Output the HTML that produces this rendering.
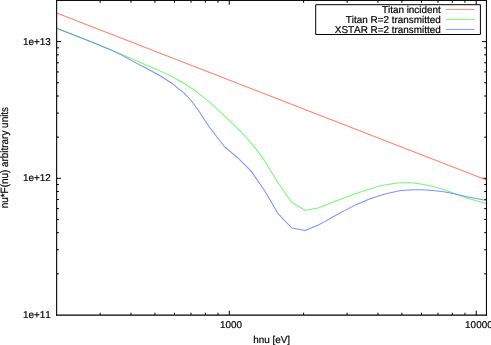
<!DOCTYPE html>
<html><head><meta charset="utf-8"><title>plot</title>
<style>
html,body{margin:0;padding:0;background:#fff;}
svg{display:block;}
text{font-family:"Liberation Sans",sans-serif;font-size:9.92px;fill:#000;stroke:#000;stroke-width:0.2px;font-kerning:none;text-rendering:geometricPrecision;}
</style></head><body>
<svg width="491" height="345" viewBox="0 0 491 345">
<rect x="0" y="0" width="491" height="345" fill="#ffffff"/>
<defs><filter id="soft" x="0" y="0" width="491" height="345" filterUnits="userSpaceOnUse"><feGaussianBlur stdDeviation="0.35"/></filter></defs>
<path d="M100.14 315.0v-2.3M100.14 0.45v2.3M130.99 315.0v-2.3M130.99 0.45v2.3M154.93 315.0v-2.3M154.93 0.45v2.3M174.48 315.0v-2.3M174.48 0.45v2.3M191.01 315.0v-2.3M191.01 0.45v2.3M205.33 315.0v-2.3M205.33 0.45v2.3M217.97 315.0v-2.3M217.97 0.45v2.3M303.61 315.0v-2.3M303.61 0.45v2.3M347.10 315.0v-2.3M347.10 0.45v2.3M377.95 315.0v-2.3M377.95 0.45v2.3M401.89 315.0v-2.3M401.89 0.45v2.3M421.44 315.0v-2.3M421.44 0.45v2.3M437.97 315.0v-2.3M437.97 0.45v2.3M452.29 315.0v-2.3M452.29 0.45v2.3M464.93 315.0v-2.3M464.93 0.45v2.3M229.27 315.0v-4.3M229.27 0.45v4.3M476.23 315.0v-4.3M476.23 0.45v4.3M56.65 273.85h2.3M486.45 273.85h-2.3M56.65 249.78h2.3M486.45 249.78h-2.3M56.65 232.70h2.3M486.45 232.70h-2.3M56.65 219.45h2.3M486.45 219.45h-2.3M56.65 208.63h2.3M486.45 208.63h-2.3M56.65 199.48h2.3M486.45 199.48h-2.3M56.65 191.55h2.3M486.45 191.55h-2.3M56.65 184.56h2.3M486.45 184.56h-2.3M56.65 137.15h2.3M486.45 137.15h-2.3M56.65 113.08h2.3M486.45 113.08h-2.3M56.65 96.00h2.3M486.45 96.00h-2.3M56.65 82.75h2.3M486.45 82.75h-2.3M56.65 71.93h2.3M486.45 71.93h-2.3M56.65 62.78h2.3M486.45 62.78h-2.3M56.65 54.85h2.3M486.45 54.85h-2.3M56.65 47.86h2.3M486.45 47.86h-2.3M56.65 178.30h4.3M486.45 178.30h-4.3M56.65 41.60h4.3M486.45 41.60h-4.3" fill="none" stroke="#000" stroke-width="1"/>
<g filter="url(#soft)">
<g fill="none" stroke-width="1.05" stroke-linejoin="round">
<polyline stroke="#ff8470" points="56.6,13.1 486.4,180.0"/>
<polyline stroke="#76f876" points="56.6,28.2 86.6,39.9 110.0,49.6 122.2,54.5 134.4,59.9 146.7,65.2 158.9,70.4 172.2,76.8 184.4,83.5 196.7,91.8 208.9,101.6 220.6,112.2 232.8,123.8 241.3,132.0 251.7,143.6 263.9,159.4 270.1,170.0 278.0,182.8 291.6,202.3 305.1,210.3 318.3,208.1 332.2,202.6 344.4,197.7 356.7,193.2 368.9,189.2 379.9,186.1 387.2,184.6 399.4,182.7 411.7,182.7 423.9,184.6 434.9,187.0 442.2,189.0 454.4,193.5 466.7,197.9 478.9,201.5 486.4,203.6"/>
<polyline stroke="#7c92ff" points="56.6,28.2 86.6,39.9 110.0,49.6 122.2,55.4 134.4,62.1 146.7,68.5 158.9,75.0 171.0,82.7 184.4,93.3 190.6,100.0 198.2,110.0 209.6,127.5 224.8,147.0 238.2,158.2 251.1,171.1 264.6,190.8 278.3,213.9 291.8,228.0 305.1,230.5 318.3,225.0 324.9,221.6 332.2,217.3 344.4,210.6 356.7,204.4 368.9,199.3 379.9,195.6 387.2,193.4 399.4,190.7 411.7,189.7 423.9,189.7 434.9,190.7 442.2,191.4 454.4,193.8 466.7,196.7 478.9,199.1 486.4,200.6"/>
<path stroke="#ff9482" d="M446 9.45H474.6"/>
<path stroke="#88fa88" d="M446 19.45H474.6"/>
<path stroke="#8c9eff" d="M446 29.45H474.6"/>
</g>
</g>
<g fill="none" stroke="#000" stroke-width="1">
<path d="M315.7 4.7H480.4V34.5H315.7Z"/>
<path d="M56.65 0V315.7" stroke-width="1.1"/>
<path d="M486.45 0V315.7" stroke-width="1.05"/>
<path d="M56.1 0.45H486.95" stroke-width="1"/>
<path d="M56.1 315.1H486.95" stroke-width="1.3"/>
</g>
<g filter="url(#soft)">
<g text-anchor="end">
<text x="50.8" y="44.6">1e+13</text>
<text x="50.8" y="181.3">1e+12</text>
<text x="50.8" y="318.0">1e+11</text>
<text x="440.8" y="12.9">Titan incident</text>
<text x="440.8" y="22.9">Titan R=2 transmitted</text>
<text x="440.8" y="32.8">XSTAR R=2 transmitted</text>
</g>
<g text-anchor="middle">
<text x="231.0" y="328.4">1000</text>
<text x="478.9" y="328.4">10000</text>
<text x="271.6" y="343">hnu [eV]</text>
<text transform="translate(7.9 157.6) rotate(-90) scale(1 1.07)">nu*F(nu) arbitrary units</text>
</g>
</g>
</svg>
</body></html>
